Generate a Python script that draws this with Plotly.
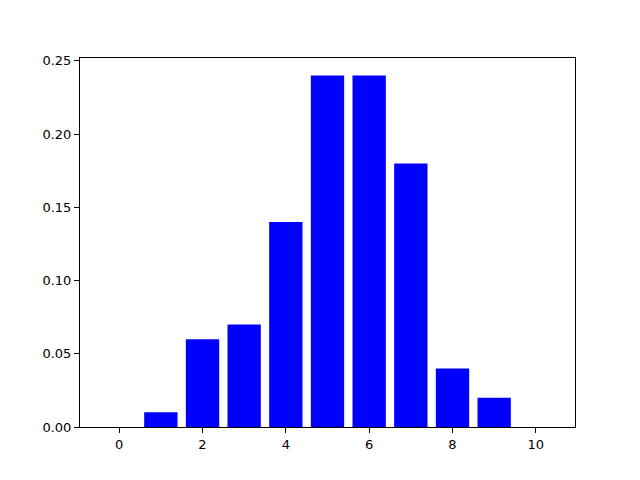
import plotly.graph_objects as go

categories = [0, 1, 2, 3, 4, 5, 6, 7, 8, 9, 10]
values = [0.0, 0.01, 0.06, 0.07, 0.14, 0.24, 0.24, 0.18, 0.04, 0.02, 0.0]
x_ticks = [0, 2, 4, 6, 8, 10]
y_ticks = [0.0, 0.05, 0.10, 0.15, 0.20, 0.25]
y_tick_labels = ["0.00", "0.05", "0.10", "0.15", "0.20", "0.25"]

fig = go.Figure(go.Bar(x=categories, y=values, width=0.8, marker=dict(color="#0000ff", line=dict(width=0))))

axis_common = dict(showgrid=False, zeroline=False, showline=True, linecolor="black", linewidth=1,
                   mirror=True, ticks="outside", ticklen=5, tickwidth=1, tickcolor="black",
                   tickfont=dict(family="DejaVu Sans", size=13, color="black"))
fig.update_layout(
    width=640, height=480,
    margin=dict(l=72, r=73, t=50, b=61),
    plot_bgcolor="white", paper_bgcolor="white",
    showlegend=False,
    xaxis=dict(range=[-0.94, 10.94], tickvals=x_ticks, **axis_common),
    yaxis=dict(range=[0, 0.252], tickvals=y_ticks, ticktext=y_tick_labels, **axis_common),
)
fig.write_html("out.html")
